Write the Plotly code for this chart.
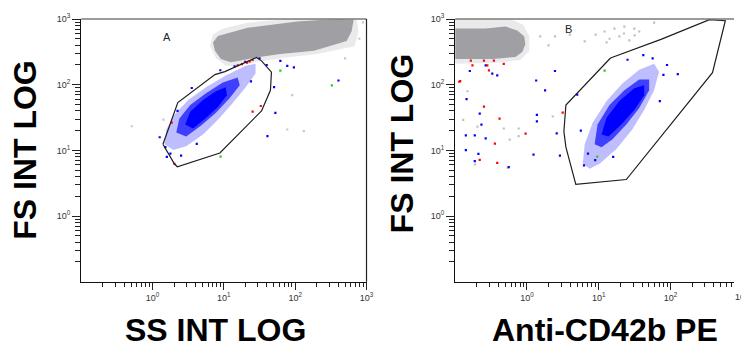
import plotly.graph_objects as go

# ---------------- tick labels ----------------
major_vals = [1, 10, 100, 1000]
major_text = ["10<sup>0</sup>", "10<sup>1</sup>", "10<sup>2</sup>", "10<sup>3</sup>"]
minor_vals = [0.2, 0.3, 0.4, 0.5, 0.6, 0.7, 0.8, 0.9,
              2, 3, 4, 5, 6, 7, 8, 9,
              20, 30, 40, 50, 60, 70, 80, 90,
              200, 300, 400, 500, 600, 700, 800, 900]

# ---------------- panel A (SS vs FS), values in log10 decades ----------------
a_gate_ss = [0.146, 0.354, 0.875, 1.014, 1.458, 1.528, 1.667, 1.653, 1.528, 0.944, 0.347, 0.306, 0.146]
a_gate_fs = [1.094, 1.728, 2.154, 2.199, 2.415, 2.363, 2.191, 1.915, 1.601, 0.960, 0.751, 0.796, 1.094]

a_gray_halo_ss = [0.806, 0.847, 0.986, 1.333, 1.889, 2.861, 2.889, 2.833, 2.306, 1.819, 1.472, 1.194, 1.028, 0.889]
a_gray_halo_fs = [2.587, 2.766, 2.855, 2.945, 3.0, 3.0, 2.810, 2.587, 2.467, 2.407, 2.348, 2.288, 2.288, 2.407]
a_gray_ss = [0.847, 0.917, 1.333, 2.028, 2.403, 2.625, 2.819, 2.792, 2.722, 2.264, 1.792, 1.472, 1.236, 1.097, 0.958, 0.875]
a_gray_fs = [2.642, 2.740, 2.866, 2.964, 2.99, 3.0, 2.99, 2.815, 2.666, 2.516, 2.467, 2.418, 2.367, 2.343, 2.393, 2.516]

a_blue_out_ss = [0.167, 0.194, 0.306, 0.500, 0.750, 1.028, 1.306, 1.444, 1.444, 1.306, 1.125, 0.917, 0.708, 0.472, 0.292]
a_blue_out_fs = [1.094, 1.318, 1.542, 1.766, 1.960, 2.139, 2.288, 2.318, 2.169, 1.960, 1.721, 1.467, 1.243, 1.064, 1.004]
a_blue_mid_ss = [0.333, 0.375, 0.528, 0.750, 0.986, 1.194, 1.222, 1.083, 0.889, 0.681, 0.472]
a_blue_mid_fs = [1.273, 1.482, 1.691, 1.870, 2.034, 2.109, 1.990, 1.796, 1.572, 1.378, 1.213]
a_blue_core_ss = [0.458, 0.528, 0.708, 0.889, 1.028, 1.042, 0.917, 0.736, 0.569]
a_blue_core_fs = [1.393, 1.587, 1.766, 1.900, 1.960, 1.840, 1.661, 1.482, 1.333]

a_blue_pts_ss = [1.704, 2.607, 1.982, 1.722, 1.611, 1.889, 1.792, 0.10, 0.20, 1.50, 1.60,
                 0.18, 0.25, 0.40, 0.62, 1.15, 1.30, 1.38, 0.95, 0.55, 0.35]
a_blue_pts_fs = [1.964, 2.064, 2.263, 1.572, 1.218, 2.288, 2.363, 1.20, 0.90, 2.40, 2.30,
                 1.05, 0.95, 0.92, 1.10, 2.28, 2.35, 2.05, 2.22, 1.95, 1.60]
a_red_pts_ss = [1.403, 1.518, 0.268, 1.324, 1.403, 1.254, 1.361, 1.194, 0.306]
a_red_pts_fs = [1.591, 1.676, 1.422, 2.337, 2.378, 2.313, 2.355, 2.296, 0.796]
a_green_pts_ss = [2.514, 1.792, 0.954]
a_green_pts_fs = [1.990, 2.213, 0.904]
a_gray_pts_ss = [-0.292, 0.153, 2.121, 1.958, 1.889, 2.70, 2.90, 2.95]
a_gray_pts_fs = [1.367, 1.467, 1.293, 1.840, 1.318, 2.40, 2.70, 2.95]

# ---------------- panel B (Anti-CD42b PE vs FS) ----------------
b_gate_pe = [1.163, 1.866, 2.541, 2.762, 2.583, 1.383, 0.680, 0.542, 0.514, 0.542, 1.163]
b_gate_fs = [2.407, 2.691, 2.990, 2.975, 2.184, 0.556, 0.482, 1.049, 1.288, 1.691, 2.407]

b_gray_halo_pe = [-1.0, -0.230, -0.051, 0.032, 0.032, -0.092, -0.437, -0.851, -1.0]
b_gray_halo_fs = [3.0, 3.0, 2.915, 2.736, 2.512, 2.378, 2.333, 2.318, 2.318]
b_gray_pe = [-1.0, -0.575, -0.299, -0.134, -0.037, -0.023, -0.065, -0.161, -0.479, -0.892, -1.0]
b_gray_fs = [2.855, 2.855, 2.885, 2.825, 2.736, 2.616, 2.497, 2.422, 2.393, 2.393, 2.393]

b_blue_out_pe = [0.777, 0.804, 0.914, 1.108, 1.328, 1.563, 1.770, 1.839, 1.770, 1.632, 1.466, 1.246, 1.011, 0.873]
b_blue_out_fs = [0.796, 1.094, 1.422, 1.751, 2.019, 2.228, 2.318, 2.199, 1.915, 1.616, 1.318, 1.019, 0.796, 0.721]
b_blue_mid_pe = [0.942, 0.983, 1.149, 1.356, 1.563, 1.701, 1.701, 1.563, 1.383, 1.190, 1.039]
b_blue_mid_fs = [1.094, 1.393, 1.691, 1.915, 2.078, 2.078, 1.915, 1.646, 1.393, 1.169, 1.049]
b_blue_core_pe = [1.039, 1.108, 1.287, 1.494, 1.632, 1.632, 1.494, 1.314, 1.135]
b_blue_core_fs = [1.243, 1.496, 1.751, 1.945, 1.990, 1.840, 1.616, 1.393, 1.213]

b_blue_pts_pe = [-0.796, 0.128, 0.252, -0.841, -0.658, 0.138, 0.138, -0.634, -0.851, -0.727, -0.575,
                 0.414, -0.851, -0.676, 0.091, 0.459, -0.727, -0.575, -0.483, -0.414, 0.390, -0.254,
                 0.794, 1.95, 1.75, 0.70, 0.85, 1.62, 1.90, 1.40, 0.75, 0.95, 1.20, 1.85, 2.10]
b_blue_pts_fs = [2.209, 2.064, 1.915, 1.781, 1.561, 1.542, 1.442, 1.391, 1.228, 1.228, 1.184,
                 1.258, 1.004, 0.945, 0.934, 0.919, 0.836, 2.293, 2.169, 2.143, 2.209, 0.746,
                 0.770, 2.30, 2.40, 1.85, 0.95, 2.45, 2.15, 2.38, 1.30, 0.85, 0.90, 1.75, 2.16]
b_red_pts_pe = [-0.599, -0.382, -0.019, -0.447, -0.930, -0.658, -0.414, 0.497, -0.782, -0.759,
                -0.599, -0.552, -0.461, -0.323, -0.530, -0.943]
b_red_pts_fs = [1.666, 1.482, 1.254, 1.104, 2.054, 0.855, 0.810, 1.576, 2.367, 2.293,
                2.367, 2.293, 2.367, 2.318, 2.218, 2.045]
b_green_pts_pe = [0.979, 1.080]
b_green_pts_fs = [0.904, 2.213]
b_gray_pts_pe = [-0.828, -0.888, -0.690, -0.323, -0.116, -0.116, -0.240, -0.723, -0.268, 0.359,
                 0.956, 1.080, 1.218, 1.356, 1.494, 1.563, 1.287, 1.425, 1.108, 0.390, 0.597,
                 0.804, 1.770, 0.184, 1.15, 1.35, 1.50, 0.30]
b_gray_pts_fs = [1.900, 1.463, 1.363, 1.333, 1.333, 1.218, 1.164, 0.785, 0.736, 1.516,
                 2.764, 2.810, 2.855, 2.885, 2.855, 2.810, 2.736, 2.676, 2.646, 2.736, 2.764,
                 2.661, 2.945, 2.736, 2.70, 2.78, 2.75, 2.60]

# ---------------- colours ----------------
GRAY = "#a0a0a4"
BLUE = "#0000ff"


def dec(vals):
    return [10 ** v for v in vals]


fig = go.Figure()


def poly(xs, ys, color, xa, ya):
    fig.add_trace(go.Scatter(x=dec(xs), y=dec(ys), mode="lines", fill="toself",
                             fillcolor=color, line=dict(width=0), hoverinfo="skip",
                             showlegend=False, xaxis=xa, yaxis=ya))


def pts(xs, ys, color, xa, ya, size=2.2):
    fig.add_trace(go.Scatter(x=dec(xs), y=dec(ys), mode="markers",
                             marker=dict(symbol="square", size=size, color=color, line=dict(width=0)),
                             hoverinfo="skip", showlegend=False, xaxis=xa, yaxis=ya))


def gate(xs, ys, xa, ya):
    fig.add_trace(go.Scatter(x=dec(xs), y=dec(ys), mode="lines",
                             line=dict(color="#1e1e1e", width=1.2), hoverinfo="skip",
                             showlegend=False, xaxis=xa, yaxis=ya))


# panel A
poly(a_gray_halo_ss, a_gray_halo_fs, "rgba(170,170,174,0.25)", "x", "y")
poly(a_gray_ss, a_gray_fs, GRAY, "x", "y")
poly(a_blue_out_ss, a_blue_out_fs, "rgba(70,70,255,0.35)", "x", "y")
poly(a_blue_mid_ss, a_blue_mid_fs, "rgba(20,20,255,0.75)", "x", "y")
poly(a_blue_core_ss, a_blue_core_fs, BLUE, "x", "y")
pts(a_gray_pts_ss, a_gray_pts_fs, "#c8c8c8", "x", "y")
pts(a_blue_pts_ss, a_blue_pts_fs, BLUE, "x", "y")
pts(a_red_pts_ss, a_red_pts_fs, "#ff0000", "x", "y")
pts(a_green_pts_ss, a_green_pts_fs, "#22cc22", "x", "y")
gate(a_gate_ss, a_gate_fs, "x", "y")

# panel B
poly(b_gray_halo_pe, b_gray_halo_fs, "rgba(170,170,174,0.25)", "x2", "y2")
poly(b_gray_pe, b_gray_fs, GRAY, "x2", "y2")
poly(b_blue_out_pe, b_blue_out_fs, "rgba(70,70,255,0.35)", "x2", "y2")
poly(b_blue_mid_pe, b_blue_mid_fs, "rgba(20,20,255,0.75)", "x2", "y2")
poly(b_blue_core_pe, b_blue_core_fs, BLUE, "x2", "y2")
pts(b_gray_pts_pe, b_gray_pts_fs, "#c0c0c0", "x2", "y2")
pts(b_blue_pts_pe, b_blue_pts_fs, BLUE, "x2", "y2")
pts(b_red_pts_pe, b_red_pts_fs, "#ff0000", "x2", "y2")
pts(b_green_pts_pe, b_green_pts_fs, "#22cc22", "x2", "y2")
gate(b_gate_pe, b_gate_fs, "x2", "y2")

W, H = 741, 349
tickfont = dict(family="Arial, Liberation Sans, sans-serif", size=9, color="#333333")


def xax(domain, rng, anchor):
    return dict(type="log", domain=domain, range=rng, anchor=anchor,
                showline=True, linecolor="#111111", linewidth=1.3,
                ticks="outside", ticklen=7, tickwidth=1, tickcolor="#222222",
                tickmode="array", tickvals=major_vals, ticktext=major_text,
                tickfont=tickfont, showgrid=False, zeroline=False,
                minor=dict(tickmode="array", tickvals=minor_vals, ticks="outside",
                           ticklen=4, tickwidth=1, tickcolor="#222222", showgrid=False))


def yax(domain, anchor):
    return dict(type="log", domain=domain, range=[-1, 3], anchor=anchor,
                showline=True, linecolor="#111111", linewidth=1.3,
                ticks="outside", ticklen=8, tickwidth=1, tickcolor="#222222",
                tickmode="array", tickvals=major_vals, ticktext=major_text,
                tickfont=tickfont, showgrid=False, zeroline=False,
                minor=dict(tickmode="array", tickvals=minor_vals, ticks="outside",
                           ticklen=5, tickwidth=1, tickcolor="#222222", showgrid=False))


ydom = [(H - 280.3) / H, (H - 12.3) / H]
fig.update_layout(
    width=W, height=H, margin=dict(l=0, r=0, t=0, b=0),
    paper_bgcolor="white", plot_bgcolor="white",
    xaxis=xax([82 / W, 370 / W], [-1, 3], "y"),
    yaxis=yax(ydom, "x"),
    xaxis2=xax([459.5 / W, 1.0], [-1, (W - 459.5) / 72.5 - 1], "y2"),
    yaxis2=yax(ydom, "x2"),
)

title_font = dict(family="Arial, Liberation Sans, sans-serif", size=32, color="#000000")
ann = [
    dict(text="<b>SS INT LOG</b>", x=218 / W, y=(H - 330) / H, textangle=0),
    dict(text="<b>Anti-CD42b PE</b>", x=611 / W, y=(H - 330) / H, textangle=0),
    dict(text="<b>FS INT LOG</b>", x=25 / W, y=(H - 146) / H, textangle=-90),
    dict(text="<b>FS INT LOG</b>", x=406 / W, y=(H - 139) / H, textangle=-90),
]
for a in ann:
    fig.add_annotation(xref="paper", yref="paper", showarrow=False, font=title_font,
                       xanchor="center", yanchor="middle", **a)

fig.add_annotation(text="A", xref="paper", yref="paper", x=169 / W, y=(H - 31) / H,
                   xanchor="center", yanchor="middle",
                   showarrow=False, font=dict(family="Arial, Liberation Sans", size=11, color="#222"))
fig.add_annotation(text="B", xref="paper", yref="paper", x=574 / W, y=(H - 22) / H,
                   xanchor="center", yanchor="middle",
                   showarrow=False, font=dict(family="Arial, Liberation Sans", size=11, color="#222"))
# partially cut tick label at the right edge of panel B
fig.add_annotation(text="10<sup>3</sup>", xref="paper", yref="paper", x=749 / W, y=(H - 295) / H,
                   showarrow=False, font=tickfont, xanchor="center", yanchor="middle")

# frame lines (top & right of panel A, top of panel B)
fig.add_shape(type="line", xref="x domain", yref="y domain", x0=0, x1=1, y0=1, y1=1,
              line=dict(color="#7a7a7a", width=1.5))
fig.add_shape(type="line", xref="x domain", yref="y domain", x0=1, x1=1, y0=0, y1=1,
              line=dict(color="#222222", width=1.2))
fig.add_shape(type="line", xref="x2 domain", yref="y2 domain", x0=0, x1=1, y0=1, y1=1,
              line=dict(color="#7a7a7a", width=1.5))

fig.write_html(
    "out.html", config={"displayModeBar": False},
    post_script=("document.body.style.margin='0';document.body.style.padding='0';"
                 "document.body.style.overflow='hidden';"
                 "var gd=document.getElementById('{plot_id}');"
                 "gd.style.position='fixed';gd.style.left='0px';gd.style.top='0px';"))
